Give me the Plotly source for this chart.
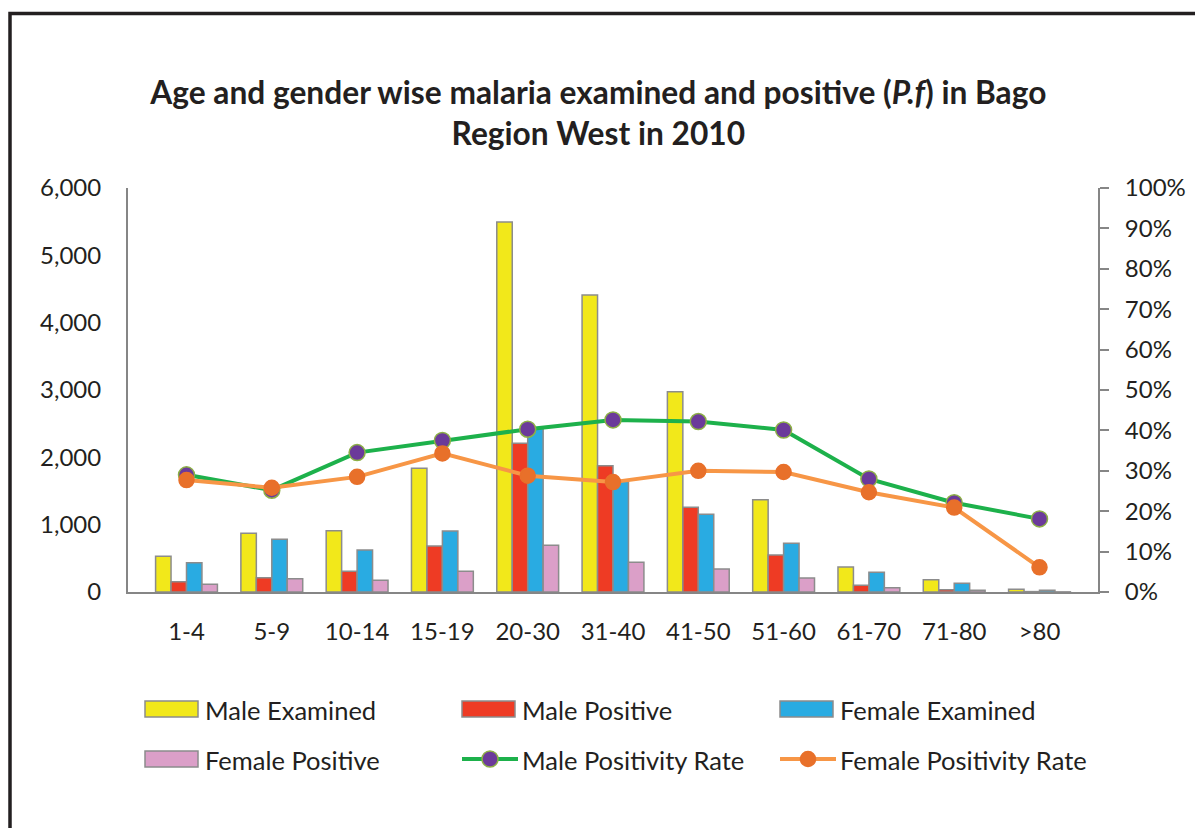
import plotly.graph_objects as go

categories = ["1-4", "5-9", "10-14", "15-19", "20-30", "31-40", "41-50", "51-60", "61-70", "71-80", ">80"]
male_examined = [530, 872, 911, 1837, 5495, 4411, 2975, 1371, 371, 183, 40]
male_positive = [153, 213, 307, 683, 2208, 1876, 1258, 550, 99, 35, 6]
female_examined = [435, 782, 624, 906, 2431, 1650, 1154, 723, 292, 129, 25]
female_positive = [114, 198, 173, 307, 693, 441, 342, 208, 64, 25, 2]
male_rate = [0.290, 0.252, 0.345, 0.375, 0.403, 0.426, 0.422, 0.401, 0.280, 0.221, 0.181]
female_rate = [0.277, 0.258, 0.285, 0.343, 0.288, 0.272, 0.300, 0.297, 0.247, 0.209, 0.061]

FONT = "Lato"
TXT = "#231F20"
AX = "#868686"
OUTLINE = "#8C8C8C"

bar_series = [
    ("Male Examined", male_examined, "#F2E81A"),
    ("Male Positive", male_positive, "#EE3B24"),
    ("Female Examined", female_examined, "#29ABE2"),
    ("Female Positive", female_positive, "#DB9FC8"),
]
line_series = [
    ("Male Positivity Rate", male_rate, "#1DB14B", "#6B3A9A", "#8DB046", 16),
    ("Female Positivity Rate", female_rate, "#F79646", "#E8702A", "#E8702A", 15),
]

fig = go.Figure()
for name, vals, col in bar_series:
    fig.add_trace(go.Bar(x=categories, y=vals, name=name, showlegend=False,
                         marker=dict(color=col, line=dict(color=OUTLINE, width=1.5))))
for name, vals, lc, mc, mlc, ms in line_series:
    fig.add_trace(go.Scatter(x=categories, y=vals, name=name, yaxis="y2", showlegend=False,
                             mode="lines+markers", line=dict(color=lc, width=4),
                             marker=dict(size=ms, color=mc, line=dict(color=mlc, width=1.5))))

# plot area in page pixels: x 128..1098, y 188..592
PX0, PW, PY0, PH = 128, 970, 592, 404
def px(x):
    return (x - PX0) / PW
def py(y):
    return (PY0 - y) / PH

shapes = [dict(type="rect", xref="paper", yref="paper", x0=px(10), x1=1.3, y0=-0.8, y1=py(13.5),
               line=dict(color="#231F20", width=3.5), fillcolor="rgba(0,0,0,0)", layer="above")]
annotations = []

# legend (3 columns x 2 rows)
entries = [
    ("bar", bar_series[0][0], bar_series[0][2], None),
    ("bar", bar_series[1][0], bar_series[1][2], None),
    ("bar", bar_series[2][0], bar_series[2][2], None),
    ("bar", bar_series[3][0], bar_series[3][2], None),
    ("line", line_series[0][0], line_series[0][2], line_series[0]),
    ("line", line_series[1][0], line_series[1][2], line_series[1]),
]
col_x = [145, 462, 780]
row_y = [709, 759]
for i, (kind, name, col, extra) in enumerate(entries):
    cx = col_x[i % 3]
    cy = row_y[i // 3]
    if kind == "bar":
        shapes.append(dict(type="rect", xref="paper", yref="paper",
                           x0=px(cx), x1=px(cx + 53), y0=py(cy + 8), y1=py(cy - 8),
                           fillcolor=col, line=dict(color=OUTLINE, width=1.5)))
    else:
        shapes.append(dict(type="line", xref="paper", yref="paper",
                           x0=px(cx), x1=px(cx + 56), y0=py(cy), y1=py(cy),
                           line=dict(color=col, width=4)))
        r = extra[5] / 2
        mid = cx + 28
        shapes.append(dict(type="circle", xref="paper", yref="paper",
                           x0=px(mid - r), x1=px(mid + r), y0=py(cy + r), y1=py(cy - r),
                           fillcolor=extra[3], line=dict(color=extra[4], width=1.5)))
    annotations.append(dict(text=name, xref="paper", yref="paper", x=px(cx + 58), y=py(cy + 1),
                            xanchor="left", yanchor="middle", showarrow=False,
                            font=dict(family=FONT, size=25.5, color=TXT)))

fig.update_layout(
    width=1195, height=820,
    margin=dict(l=120, r=105, t=180, b=236),
    paper_bgcolor="white", plot_bgcolor="white",
    font=dict(family=FONT, size=24, color=TXT),
    barmode="group", bargap=0.275, bargroupgap=0,
    showlegend=False,
    title=dict(
        text="Age and gender wise malaria examined and positive (<i>P.f</i>) in Bago<br>Region West in 2010",
        x=0.494, xref="container", xanchor="center",
        y=0.883, yref="container", yanchor="middle",
        font=dict(family=FONT, size=31.7, color=TXT, weight="bold"),
    ),
    xaxis=dict(showline=True, linecolor=AX, linewidth=2, ticks="", showgrid=False,
               ticklabelstandoff=17, tickfont=dict(size=24)),
    yaxis=dict(range=[0, 6000], dtick=1000, tickformat=",", showline=True, linecolor=AX, linewidth=2,
               ticks="", showgrid=False, zeroline=False, ticklabelstandoff=20, tickfont=dict(size=24)),
    yaxis2=dict(range=[0, 1], dtick=0.1, tickformat=".0%", overlaying="y", side="right",
                showline=True, linecolor=AX, linewidth=2, ticks="outside", ticklen=9, tickcolor=AX,
                tickwidth=2, showgrid=False, zeroline=False, ticklabelstandoff=11, tickfont=dict(size=24)),
    shapes=shapes,
    annotations=annotations,
)

fig.write_html("out.html")
